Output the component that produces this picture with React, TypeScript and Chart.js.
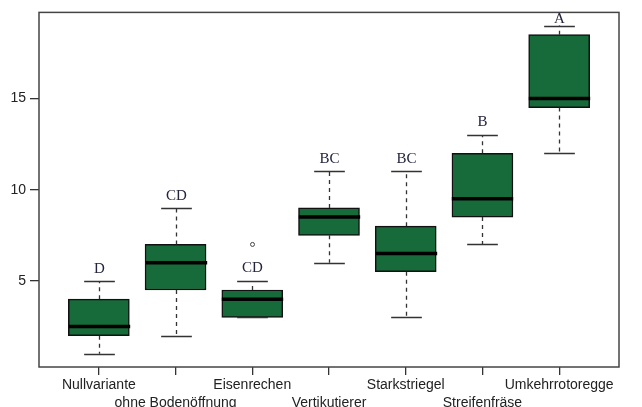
import React, { useEffect, useRef } from 'react';
import { Chart, registerables } from 'chart.js';

Chart.register(...registerables);

const categories = [
  'Nullvariante',
  'ohne Bodenöffnung',
  'Eisenrechen',
  'Vertikutierer',
  'Starkstriegel',
  'Streifenfräse',
  'Umkehrrotoregge',
];
const lowerWhisker = [1, 2, 3, 6, 3, 7, 12];
const q1 = [2, 4.5, 3, 7.5, 5.5, 8.5, 14.5];
const median = [2.5, 6, 4, 8.5, 6.5, 9.5, 15];
const q3 = [4, 7, 4.5, 9, 8, 12, 18.5];
const upperWhisker = [5, 9, 5, 11, 11, 13, 19];
const outliers: number[][] = [[], [], [7], [], [], [], []];
const letters = ['D', 'CD', 'CD', 'BC', 'BC', 'B', 'A'];
const letterY = [5.45, 9.45, 5.5, 11.45, 11.45, 13.5, 19.15];
const yTicks = [5, 10, 15];

const BOX_FILL = '#176a3a';

const boxPlugin = {
  id: 'boxExtras',
  afterDatasetsDraw(chart: any) {
    const ctx = chart.ctx;
    const xs = chart.scales.x;
    const ys = chart.scales.y;
    const halfBox = (xs.getPixelForValue(1.4) - xs.getPixelForValue(1));
    const halfCap = halfBox / 2;
    ctx.save();
    categories.forEach((_, i) => {
      const x = Math.round(xs.getPixelForValue(i + 1)) + 0.5;
      const yLo = ys.getPixelForValue(lowerWhisker[i]);
      const yQ1 = ys.getPixelForValue(q1[i]);
      const yQ3 = ys.getPixelForValue(q3[i]);
      const yHi = ys.getPixelForValue(upperWhisker[i]);
      const yMed = ys.getPixelForValue(median[i]);
      // whiskers (dashed)
      ctx.strokeStyle = '#333';
      ctx.lineWidth = 1.3;
      ctx.setLineDash([4, 4]);
      ctx.beginPath();
      if (yHi < yQ3 - 0.5) {
        ctx.moveTo(x, yQ3);
        ctx.lineTo(x, yHi);
      }
      if (yLo > yQ1 + 0.5) {
        ctx.moveTo(x, yQ1);
        ctx.lineTo(x, yLo);
      }
      ctx.stroke();
      ctx.setLineDash([]);
      // caps
      ctx.beginPath();
      ctx.moveTo(x - halfCap, Math.round(yHi) + 0.5);
      ctx.lineTo(x + halfCap, Math.round(yHi) + 0.5);
      ctx.moveTo(x - halfCap, Math.round(yLo) + 0.5);
      ctx.lineTo(x + halfCap, Math.round(yLo) + 0.5);
      ctx.stroke();
      // median
      ctx.strokeStyle = '#000';
      ctx.lineWidth = 3.5;
      ctx.beginPath();
      ctx.moveTo(x - halfBox, yMed);
      ctx.lineTo(x + halfBox, yMed);
      ctx.stroke();
      // outliers
      ctx.strokeStyle = '#444';
      ctx.lineWidth = 1;
      outliers[i].forEach((v) => {
        ctx.beginPath();
        ctx.arc(x, ys.getPixelForValue(v), 2, 0, Math.PI * 2);
        ctx.stroke();
      });
      // letters
      ctx.fillStyle = '#24243f';
      ctx.font = '15px "Liberation Serif", "Times New Roman", serif';
      ctx.textAlign = 'center';
      ctx.textBaseline = 'alphabetic';
      ctx.fillText(letters[i], x, ys.getPixelForValue(letterY[i]));
    });
    // frame
    const a = chart.chartArea;
    ctx.strokeStyle = '#444';
    ctx.lineWidth = 1.5;
    ctx.strokeRect(a.left, a.top, a.right - a.left, a.bottom - a.top);
    ctx.restore();
  },
};

export default function App() {
  const ref = useRef<HTMLCanvasElement | null>(null);
  useEffect(() => {
    if (!ref.current) return;
    const chart = new Chart(ref.current, {
      type: 'bar',
      data: {
        datasets: [
          {
            data: categories.map((_, i) => ({ x: i + 1, y: [q1[i], q3[i]] })) as any,
            backgroundColor: BOX_FILL,
            borderColor: '#111',
            borderWidth: 1.5,
            borderSkipped: false,
            barThickness: 61,
          },
        ],
      },
      options: {
        animation: false,
        responsive: false,
        layout: { padding: { top: 12, right: 23, left: 0, bottom: 0 } },
        plugins: { legend: { display: false }, tooltip: { enabled: false } },
        scales: {
          x: {
            type: 'linear',
            min: 0.22,
            max: 7.78,
            offset: false,
            border: { display: false },
            grid: {
              offset: false,
              drawOnChartArea: false,
              drawTicks: true,
              tickLength: 8,
              color: '#333',
              lineWidth: 1.3,
            },
            afterBuildTicks: (s: any) => {
              s.ticks = categories.map((_, i) => ({ value: i + 1 }));
            },
            afterFit: (s: any) => {
              s.height = 40;
            },
            ticks: {
              autoSkip: false,
              maxRotation: 0,
              minRotation: 0,
              padding: 1,
              color: '#222',
              font: { family: '"Liberation Sans", Arial, sans-serif', size: 14, lineHeight: 1.3 },
              callback: (v: any) => {
                const i = Math.round(Number(v)) - 1;
                const name = categories[i] ?? '';
                return i % 2 === 1 ? ['', name] : name;
              },
            },
          },
          y: {
            min: 0.28,
            max: 19.72,
            border: { display: false },
            grid: {
              drawOnChartArea: false,
              drawTicks: true,
              tickLength: 9,
              color: '#333',
              lineWidth: 1.3,
            },
            afterBuildTicks: (s: any) => {
              s.ticks = yTicks.map((v) => ({ value: v }));
            },
            afterFit: (s: any) => {
              s.width = 39;
            },
            ticks: {
              padding: 4,
              color: '#222',
              font: { family: '"Liberation Sans", Arial, sans-serif', size: 14 },
              callback: (v: any) => String(v),
            },
          },
        },
      },
      plugins: [boxPlugin],
    });
    return () => chart.destroy();
  }, []);
  return (
    <div style={{ position: 'absolute', left: 0, top: 0, width: 642, height: 407, background: '#fff' }}>
      <canvas ref={ref} width={642} height={407} />
    </div>
  );
}
